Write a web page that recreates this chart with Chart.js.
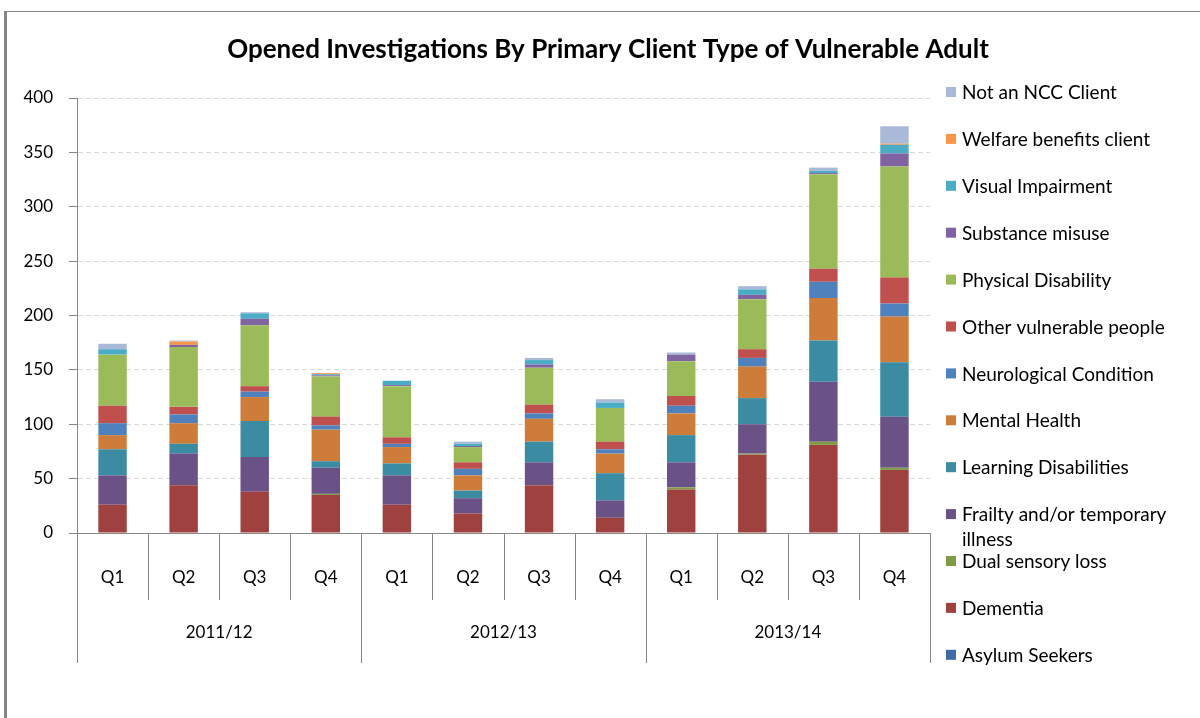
<!DOCTYPE html>
<html>
<head>
<meta charset="utf-8">
<title>Opened Investigations By Primary Client Type of Vulnerable Adult</title>
<script src="https://cdn.jsdelivr.net/npm/chart.js@4.4.0/dist/chart.umd.min.js"></script>
<style>
    html, body { margin: 0; padding: 0; background: #fff; overflow: hidden; }
    #wrap { position: relative; width: 1200px; height: 718px; }
    #frame {
        position: absolute; left: 4px; top: 11px; width: 1300px; height: 800px;
        border-left: 3px solid #868686; border-top: 1px solid #868686;
    }
    #chart { position: absolute; left: 0; top: 0; }
</style>
</head>
<body>
<div id="wrap">
    <div id="frame"></div>
    <canvas id="chart" width="1200" height="718"></canvas>
</div>
<script>
// ---- data ----
const title = 'Opened Investigations By Primary Client Type of Vulnerable Adult';
const years = ['2011/12', '2012/13', '2013/14'];
const quarters = ['Q1', 'Q2', 'Q3', 'Q4'];
const yTicks = [0, 50, 100, 150, 200, 250, 300, 350, 400];

const asylumSeekers = [0, 0, 0, 0, 0, 0, 0, 0, 0, 0, 0, 0];
const dementia = [26, 44, 38, 35, 26, 18, 44, 14, 40, 72, 81, 58];
const dualSensoryLoss = [0, 0, 0, 1, 0, 0, 0, 0, 2, 1, 3, 2];
const frailty = [27, 29, 32, 24, 27, 14, 21, 16, 23, 27, 55, 47];
const learningDisabilities = [24, 9, 33, 6, 11, 7, 19, 25, 25, 24, 38, 50];
const mentalHealth = [13, 19, 22, 29, 15, 14, 21, 18, 20, 29, 39, 42];
const neurological = [11, 8, 5, 4, 3, 6, 5, 4, 7, 8, 15, 12];
const otherVulnerable = [16, 7, 5, 8, 6, 6, 8, 7, 9, 8, 12, 24];
const physicalDisability = [47, 55, 56, 37, 47, 14, 34, 31, 32, 46, 87, 102];
const substanceMisuse = [0, 2, 6, 1, 1, 1, 3, 0, 6, 4, 1, 12];
const visualImpairment = [5, 0, 5, 1, 4, 2, 4, 5, 0, 5, 2, 8];
const welfareBenefits = [0, 3, 0, 1, 0, 0, 0, 0, 0, 0, 0, 1];
const notNccClient = [5, 1, 1, 0, 0, 2, 2, 3, 2, 3, 3, 16];

const seriesNames = [
    'Asylum Seekers', 'Dementia', 'Dual sensory loss', 'Frailty and/or temporary illness',
    'Learning Disabilities', 'Mental Health', 'Neurological Condition', 'Other vulnerable people',
    'Physical Disability', 'Substance misuse', 'Visual Impairment', 'Welfare benefits client',
    'Not an NCC Client'
];
const seriesValues = [
    asylumSeekers, dementia, dualSensoryLoss, frailty, learningDisabilities, mentalHealth,
    neurological, otherVulnerable, physicalDisability, substanceMisuse, visualImpairment,
    welfareBenefits, notNccClient
];
const seriesColors = [
    '#3F6CA5', '#9E413F', '#7F9B48', '#6A5186', '#3B8BA3', '#CD7D39', '#4F81BD',
    '#C0504D', '#9BBB59', '#8064A2', '#4BACC6', '#F79646', '#AAB9D7'
];

const FONT = 'Lato, "Liberation Sans", sans-serif';
const LINE = '#868686';

// one label per bar: quarter within year
const labels = [];
years.forEach(y => quarters.forEach(q => labels.push([q, y])));

/**
 * Draws title, two-level category axis and the legend
 */
const decorations = {
    id: 'decorations',
    afterDraw(chart) {
        const ctx = chart.ctx;
        const x = chart.scales.x;
        const area = chart.chartArea;
        const n = labels.length;

        ctx.save();

        // title
        ctx.fillStyle = '#000';
        ctx.font = 'bold 26px ' + FONT;
        ctx.textAlign = 'center';
        ctx.textBaseline = 'middle';
        ctx.fillText(title, 608, 50);

        // category separators
        ctx.strokeStyle = LINE;
        ctx.lineWidth = 1;
        for (let i = 0; i <= n; i++) {
            const px = Math.round(x.getPixelForValue(i - 0.5)) + 0.5;
            const isGroup = i % quarters.length === 0;
            ctx.beginPath();
            ctx.moveTo(px, area.bottom);
            ctx.lineTo(px, isGroup ? 663 : 600);
            ctx.stroke();
        }

        // quarter and year labels
        ctx.font = '17px ' + FONT;
        ctx.fillStyle = '#000';
        labels.forEach((lab, i) => {
            ctx.fillText(lab[0], x.getPixelForValue(i), 578);
        });
        years.forEach((y, j) => {
            const a = x.getPixelForValue(j * quarters.length - 0.5);
            const b = x.getPixelForValue((j + 1) * quarters.length - 0.5);
            ctx.fillText(y, (a + b) / 2, 633);
        });

        // legend, reversed like the stack
        ctx.font = '19px ' + FONT;
        ctx.textAlign = 'left';
        const boxX = 946, textX = 962, maxW = 234;
        const top = 92, step = 46.9;
        chart.data.datasets.slice().reverse().forEach((ds, k) => {
            const cy = top + k * step;
            ctx.fillStyle = ds.backgroundColor;
            ctx.fillRect(boxX, cy - 5, 10, 10);
            ctx.fillStyle = '#000';
            // wrap long names
            const words = ds.label.split(' ');
            const lines = [];
            let cur = '';
            words.forEach(w => {
                const test = cur ? cur + ' ' + w : w;
                if (ctx.measureText(test).width > maxW && cur) {
                    lines.push(cur);
                    cur = w;
                } else {
                    cur = test;
                }
            });
            lines.push(cur);
            lines.forEach((l, li) => ctx.fillText(l, textX, cy + 1 + li * 25));
        });

        ctx.restore();
    }
};

const datasets = seriesNames.map((name, i) => ({
    label: name,
    data: seriesValues[i],
    backgroundColor: seriesColors[i],
    borderWidth: 0,
    barPercentage: 0.4,
    categoryPercentage: 1.0
}));

new Chart(document.getElementById('chart').getContext('2d'), {
    type: 'bar',
    data: { labels: labels, datasets: datasets },
    options: {
        responsive: false,
        animation: false,
        devicePixelRatio: 1,
        layout: { padding: { top: 98, right: 270, bottom: 0, left: 0 } },
        plugins: {
            legend: { display: false },
            title: { display: false },
            tooltip: { enabled: false }
        },
        scales: {
            x: {
                stacked: true,
                grid: { display: false },
                ticks: { display: false },
                border: { color: LINE, width: 1 },
                afterFit: function(scale) { scale.height = 185; }
            },
            y: {
                stacked: true,
                min: yTicks[0],
                max: yTicks[yTicks.length - 1],
                afterBuildTicks: function(scale) {
                    scale.ticks = yTicks.map(v => ({ value: v }));
                },
                ticks: {
                    padding: 16,
                    color: '#000',
                    font: { family: FONT, size: 17 }
                },
                grid: {
                    color: '#d9d9d9',
                    tickColor: LINE,
                    tickLength: 8,
                    tickBorderDash: []
                },
                border: { color: LINE, width: 1, dash: [5, 3] },
                afterFit: function(scale) { scale.width = 77; }
            }
        }
    },
    plugins: [decorations]
});
</script>
</body>
</html>
